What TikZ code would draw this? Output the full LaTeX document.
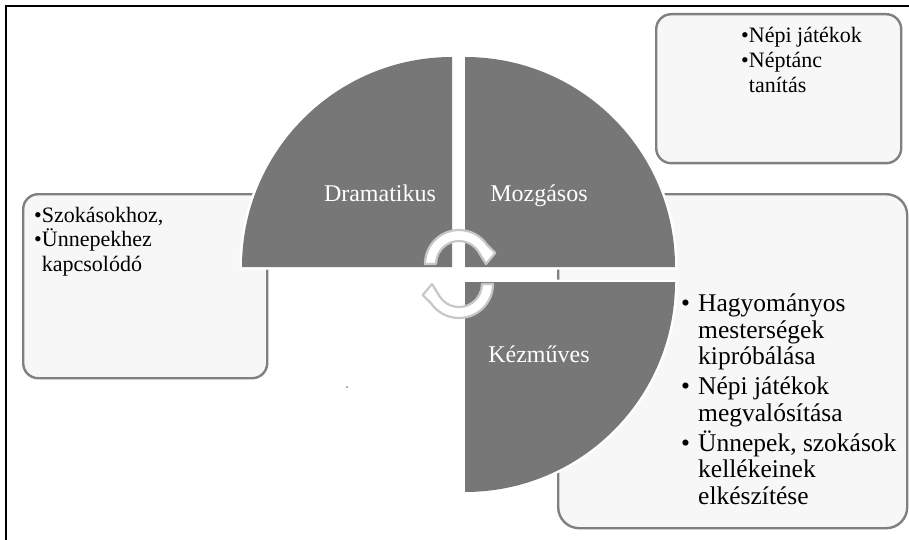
\documentclass[tikz,border=0pt]{standalone}
\usepackage{fontspec}
\setmainfont{Liberation Serif}
\usetikzlibrary{positioning,calc}
\definecolor{qgray}{RGB}{119,119,119}
\definecolor{boxfill}{RGB}{247,247,247}
\definecolor{boxline}{RGB}{128,128,128}

\begin{document}
\begin{tikzpicture}[
  x=1pt, y=-1pt,
  infobox/.style={draw=boxline, line width=2.4pt, fill=boxfill, anchor=north west,
                  inner sep=0pt, rounded corners=15pt},
  quad/.style={fill=qgray, preaction={draw=white, line width=5pt}},
  qlabel/.style={text=white, anchor=base, inner sep=0pt, font=\fontsize{24}{28}\selectfont},
  btext/.style={anchor=base west, align=left, inner sep=0pt,
                font=\fontsize{22}{25}\selectfont},
  cyc/.style={fill=white, draw=black!22, line width=2.2pt, line join=round},
]
\useasboundingbox (0,0) rectangle (909,540);

% ---- outer frame (only top and left edge are in view) ----
\draw[line width=2.8pt] (909,6) -- (6,6) -- (6,540);

% ---- text boxes ----
\node[infobox, minimum width=244pt, minimum height=184pt] (leftbox) at (22,193) {};
\node[infobox, minimum width=245pt, minimum height=149pt] (topbox) at (655,13) {};
\node[infobox, minimum width=349pt, minimum height=334pt, rounded corners=21pt]
  (botbox) at (557,193) {};

% ---- the three quadrants ----
\coordinate (cdrama) at (452,267);
\coordinate (cmove) at (465,267);
\coordinate (ccraft) at (465,282);
\path[quad] (cdrama) -- ($(cdrama)+(180:210)$) arc[start angle=180, end angle=270, radius=210] -- cycle;
\path[quad] (cmove) -- ($(cmove)+(270:210)$) arc[start angle=270, end angle=360, radius=210] -- cycle;
\path[quad] (ccraft) -- ($(ccraft)+(0:210)$) arc[start angle=0, end angle=90, radius=210] -- cycle;

% stray mark of the empty fourth quadrant
\fill[black!40] (347,387) circle[radius=1.2];

% ---- circular arrows in the middle ----
\coordinate (cup) at (459,264);
\coordinate (clow) at (459,284);
\draw[cyc] ($(cup)+(180:34)$) arc[start angle=180, end angle=326, radius=34]
  -- ($(cup)+(343:38)$) -- ($(cup)+(0:27)$) -- ($(cup)+(326:23)$)
  arc[start angle=326, end angle=180, radius=23] -- cycle;
\draw[cyc] ($(clow)+(0:34)$) arc[start angle=0, end angle=146, radius=34]
  -- ($(clow)+(163:38)$) -- ($(clow)+(180:27)$) -- ($(clow)+(146:23)$)
  arc[start angle=146, end angle=0, radius=23] -- cycle;

% ---- quadrant labels ----
\node[qlabel] (drama) at (380,201) {Dramatikus};
\node[qlabel] (move) at (539,201) {Mozgásos};
\node[qlabel] (craft) at (539,362) {Kézműves};

% ---- box texts (placed by the baseline of their last line) ----
\node[btext, font=\fontsize{22}{24.5}\selectfont] (lefttxt) at (34,271)
  {\textbullet Szokásokhoz,\\ \textbullet Ünnepekhez\\ \hphantom{\textbullet}kapcsolódó};
\node[btext] (toptxt) at (741,93)
  {\textbullet Népi játékok\\ \textbullet Néptánc\\ \hphantom{\textbullet}tanítás};
\node[btext, font=\fontsize{25.5}{26.5}\selectfont] (bottxt) at (681,504)
  {\makebox[17pt][l]{\textbullet}Hagyományos\\ \hspace*{17pt}mesterségek\\ \hspace*{17pt}kipróbálása\\[3.5pt]
   \makebox[17pt][l]{\textbullet}Népi játékok\\ \hspace*{17pt}megvalósítása\\[3.5pt]
   \makebox[17pt][l]{\textbullet}Ünnepek, szokások\\ \hspace*{17pt}kellékeinek\\ \hspace*{17pt}elkészítése};

\end{tikzpicture}
\end{document}
